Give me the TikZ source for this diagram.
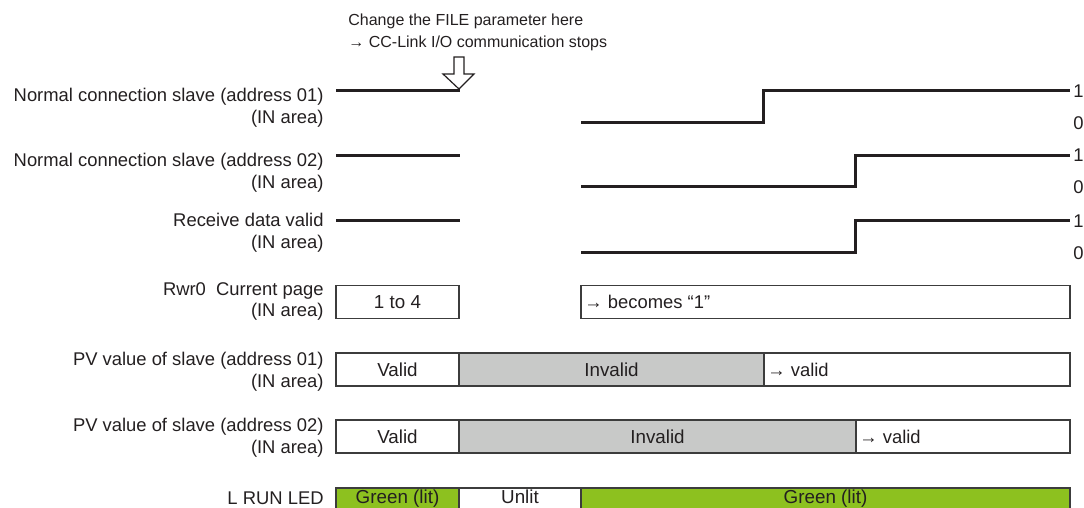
\documentclass[tikz,border=0pt]{standalone}
\usepackage{fontspec}
\setmainfont{Liberation Sans}
\usetikzlibrary{positioning,calc}
\definecolor{TextClr}{RGB}{35,31,32}
\definecolor{LitClr}{RGB}{141,193,31}
\definecolor{InvalidClr}{RGB}{200,201,200}
\definecolor{EdgeClr}{RGB}{60,60,60}

\tikzset{
  sig/.style={line width=1.5pt,color=TextClr},
  lbl/.style={anchor=east,align=right,inner sep=0pt,text=TextClr,
    font=\fontsize{9.2}{10.8}\selectfont},
  cell/.style={draw=EdgeClr,line width=0.6pt,anchor=north west,minimum height=16.5pt,
    inner sep=0pt,outer sep=0pt,text height=6.8pt,text depth=0pt,text=TextClr,
    font=\fontsize{9.4}{11}\selectfont},
  ledcell/.style={cell,minimum height=11.5pt,text depth=3pt},
  lvl/.style={anchor=west,inner sep=0pt,text=TextClr,font=\fontsize{9.2}{11}\selectfont},
}

\begin{document}
\begin{tikzpicture}[x=0.5pt,y=-0.5pt]
\useasboundingbox (0,0) rectangle (1084,508);
\clip (0,0) rectangle (1084,508);

% note and hollow arrow
\node[anchor=west,align=left,inner sep=0pt,text=TextClr,font=\fontsize{8}{11}\selectfont]
  (note) at (348,32) {Change the FILE parameter here\\→ CC-Link I/O communication stops};
\coordinate (stop) at (459,89);
\draw[line width=0.6pt,draw=TextClr,fill=white] (stop) -- ++(-16,-15) -- ++(11,0) -- ++(0,-17)
  -- ++(10,0) -- ++(0,17) -- ++(10,0) -- cycle;

% signal rows
\foreach \hi/\lo/\st/\nm in {91/123/763/a,155.5/187/855/b,221/253/855/c}{
  \draw[sig] (336,\hi) -- (460,\hi);
  \draw[sig] (581,\lo) -- (\st,\lo) -- (\st,\hi) -- (1070,\hi);
  \node[lvl] (one\nm) at (1073,\hi) {1};
  \node[lvl] (zero\nm) at (1073,\lo) {0};
}

\node[lbl] (lblSlaveA) at (324,108) {Normal connection slave (address 01)\\(IN area)};
\node[lbl] (lblSlaveB) at (324,173) {Normal connection slave (address 02)\\(IN area)};
\node[lbl] (lblRecv) at (324,232.5) {Receive data valid\\(IN area)};
\node[lbl] (lblPage) at (324,301.5) {Rwr0~~Current page\\(IN area)};
\node[lbl] (lblPvA) at (324,371.5) {PV value of slave (address 01)\\(IN area)};
\node[lbl] (lblPvB) at (324,437.5) {PV value of slave (address 02)\\(IN area)};
\node[lbl] (lblLed) at (324,498) {L RUN LED};

% current page
\node[cell,minimum width=61.5pt] (pageOld) at (336,285.5) {1 to 4};
\node[cell,minimum width=244.5pt] (pageNew) at (581,285.5) {};
\node[lvl] at ($(pageNew.west)+(3,0)$) {→ becomes “1”};

% PV values
\node[cell,minimum width=61.5pt] (pvAok) at (336,353) {Valid};
\node[cell,minimum width=152.5pt,fill=InvalidClr] (pvAbad) at (459,353) {Invalid};
\node[cell,minimum width=153pt] (pvAnew) at (764,353) {};
\node[lvl] at ($(pvAnew.west)+(3,0)$) {→ valid};

\node[cell,minimum width=61.5pt] (pvBok) at (336,420) {Valid};
\node[cell,minimum width=198.5pt,fill=InvalidClr] (pvBbad) at (459,420) {Invalid};
\node[cell,minimum width=107pt] (pvBnew) at (856,420) {};
\node[lvl] at ($(pvBnew.west)+(3,0)$) {→ valid};

% L RUN LED
\node[ledcell,minimum width=61.5pt,fill=LitClr] (ledA) at (336,488) {Green (lit)};
\node[ledcell,minimum width=61pt] (ledB) at (459,488) {Unlit};
\node[ledcell,minimum width=244.5pt,fill=LitClr] (ledC) at (581,488) {Green (lit)};

\end{tikzpicture}
\end{document}
